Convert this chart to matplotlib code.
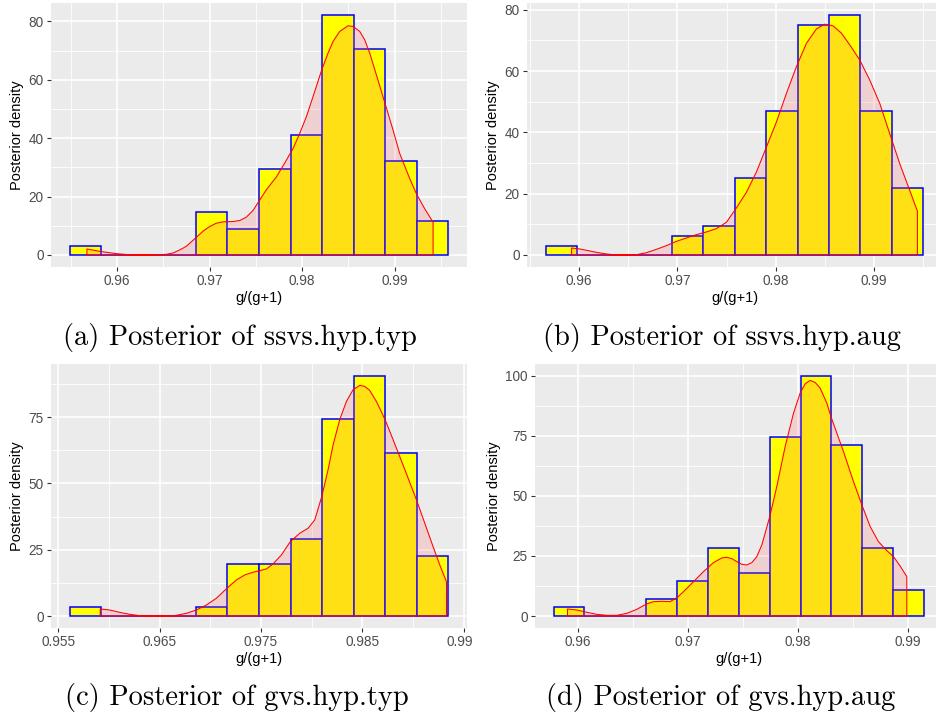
import numpy as np
import matplotlib
matplotlib.use("Agg")
import matplotlib.pyplot as plt
from matplotlib.transforms import Bbox

W, H = 937, 722

# ---- histogram data: bin range and bar heights for each model ----
a_bins = (0.95492, 0.99576)
a_heights = [3.0, 0, 0, 0, 14.7, 8.8, 29.3, 41.1, 82.2, 70.5, 32.2, 11.7]
b_bins = (0.95661, 0.99502)
b_heights = [3.0, 0, 0, 0, 6.2, 9.4, 25.0, 47.0, 75.2, 78.3, 47.0, 21.8]
c_bins = (0.95615, 0.99345)
c_heights = [3.3, 0, 0, 0, 3.3, 19.5, 19.5, 29.1, 74.2, 90.5, 61.3, 22.7]
d_bins = (0.95779, 0.99148)
d_heights = [3.6, 0, 0, 7.2, 14.4, 28.5, 17.8, 74.7, 99.9, 71.1, 28.5, 10.7]

# ---- kernel density estimates ----
a_dens_x = [0.95676, 0.95813, 0.95993, 0.96173, 0.96353, 0.96533, 0.96605, 0.96677,
            0.96749, 0.96850, 0.96929, 0.97001, 0.97073, 0.97145, 0.97253, 0.97325,
            0.97397, 0.97469, 0.97534, 0.97613, 0.97721, 0.97829, 0.97901, 0.97973,
            0.98045, 0.98117, 0.98211, 0.98279, 0.98333, 0.98405, 0.98495, 0.98550,
            0.98622, 0.98676, 0.98730, 0.98802, 0.98895, 0.98982, 0.99054, 0.99162,
            0.99234, 0.99324, 0.99414]
a_dens_y = [2.06, 1.26, 0.46, 0.0, 0.0, 0.23, 0.69, 1.72, 2.98, 5.85, 8.14, 9.74,
            10.89, 11.35, 11.46, 11.8, 12.95, 15.24, 18.45, 22.35, 26.7, 32.43, 36.45,
            41.6, 47.33, 54.21, 63.38, 69.11, 73.12, 76.56, 78.51, 78.28, 76.56, 73.69,
            69.11, 61.66, 51.92, 42.75, 34.73, 26.13, 20.97, 15.82, 11.23]

b_dens_x = [0.95922, 0.96007, 0.96092, 0.96176, 0.96278, 0.96380, 0.96481, 0.96583,
            0.96685, 0.96786, 0.96888, 0.96990, 0.97092, 0.97193, 0.97295, 0.97397,
            0.97498, 0.97600, 0.97702, 0.97803, 0.97905, 0.98007, 0.98108, 0.98210,
            0.98312, 0.98414, 0.98498, 0.98583, 0.98668, 0.98753, 0.98854, 0.98956,
            0.99058, 0.99159, 0.99261, 0.99363, 0.99441]
b_dens_y = [2.29, 1.96, 1.42, 0.87, 0.33, 0.0, 0.0, 0.11, 0.76, 1.86, 3.06, 4.47,
            5.57, 6.66, 7.53, 8.62, 10.7, 15.39, 20.52, 27.07, 35.25, 43.44, 52.71,
            61.45, 69.09, 73.78, 75.31, 74.76, 72.36, 68.54, 63.63, 57.08, 49.44,
            39.62, 29.8, 21.06, 14.3]

c_dens_x = [0.95914, 0.96007, 0.96105, 0.96204, 0.96303, 0.96434, 0.96566, 0.96664,
            0.96763, 0.96862, 0.96961, 0.97059, 0.97174, 0.97257, 0.97339, 0.97421,
            0.97487, 0.97553, 0.97618, 0.97701, 0.97789, 0.97882, 0.97964, 0.98030,
            0.98099, 0.98161, 0.98211, 0.98276, 0.98342, 0.98408, 0.98474, 0.98523,
            0.98572, 0.98638, 0.98724, 0.98803, 0.98868, 0.98951, 0.99033, 0.99115,
            0.99197, 0.99263, 0.99329]
c_dens_y = [2.64, 2.27, 1.38, 0.63, 0.13, 0.0, 0.0, 0.25, 1.01, 2.27, 4.15, 6.67,
            10.82, 13.59, 15.48, 16.49, 17.11, 17.74, 19.63, 23.03, 28.06, 31.21,
            33.1, 36.24, 45.05, 55.12, 64.56, 73.99, 80.91, 85.32, 86.96, 86.58,
            85.07, 80.91, 73.99, 66.44, 60.15, 51.97, 43.79, 34.98, 26.17, 19.25, 12.96]

d_dens_x = [0.95906, 0.95991, 0.96082, 0.96173, 0.96264, 0.96355, 0.96445, 0.96536,
            0.96624, 0.96688, 0.96764, 0.96839, 0.96906, 0.96976, 0.97052, 0.97142,
            0.97233, 0.97309, 0.97355, 0.97400, 0.97445, 0.97491, 0.97536, 0.97582,
            0.97627, 0.97673, 0.97745, 0.97809, 0.97885, 0.97961, 0.98021, 0.98067,
            0.98112, 0.98158, 0.98203, 0.98264, 0.98306, 0.98355, 0.98415, 0.98506,
            0.98588, 0.98658, 0.98733, 0.98809, 0.98870, 0.98930, 0.98991]
d_dens_y = [2.92, 2.5, 1.53, 0.69, 0.28, 0.28, 1.11, 2.78, 5.0, 5.97, 6.11, 5.97,
            7.78, 10.83, 14.31, 18.47, 22.22, 24.17, 24.44, 23.89, 22.64, 21.53, 21.25,
            22.22, 24.72, 29.58, 41.39, 53.89, 70.56, 84.44, 92.78, 96.67, 98.06,
            97.22, 94.86, 88.61, 82.36, 76.11, 68.47, 55.97, 45.56, 37.22, 30.97,
            27.22, 24.72, 20.83, 16.39]

# ---- axis breaks ----
a_xticks = [0.96, 0.97, 0.98, 0.99]
a_xlabels = ["0.96", "0.97", "0.98", "0.99"]
a_yticks = [0, 20, 40, 60, 80]
b_xticks = [0.96, 0.97, 0.98, 0.99]
b_xlabels = ["0.96", "0.97", "0.98", "0.99"]
b_yticks = [0, 20, 40, 60, 80]
c_xticks = [0.955, 0.965, 0.975, 0.985, 0.995]
c_xlabels = ["0.955", "0.965", "0.975", "0.985", "0.995"]
c_yticks = [0, 25, 50, 75]
d_xticks = [0.96, 0.97, 0.98, 0.99]
d_xlabels = ["0.96", "0.97", "0.98", "0.99"]
d_yticks = [0, 25, 50, 75, 100]

captions = ["(a) Posterior of ssvs.hyp.typ", "(b) Posterior of ssvs.hyp.aug",
            "(c) Posterior of gvs.hyp.typ", "(d) Posterior of gvs.hyp.aug"]

BG = "#EBEBEB"
TICK_COL = "#4D4D4D"

plt.rcParams["font.family"] = ["Liberation Sans", "DejaVu Sans"]

fig = plt.figure(figsize=(W / 100, H / 100), dpi=100)
fig.patch.set_facecolor("white")


def px_axes(left, top, right, bottom):
    return fig.add_axes([left / W, 1 - bottom / H, (right - left) / W, (bottom - top) / H])


def midpoints(ticks, lo, hi):
    step = ticks[1] - ticks[0]
    cand = [ticks[0] - step / 2] + [t + step / 2 for t in ticks]
    return [m for m in cand if lo < m < hi]


def panel(box, bins, heights, dx, dy, xticks, xlabels, yticks, clip_right=None):
    ax = px_axes(*box)
    ax.set_facecolor(BG)
    n = len(heights)
    edges = np.linspace(bins[0], bins[1], n + 1)
    xr = edges[-1] - edges[0]
    xlim = (edges[0] - 0.05 * xr, edges[-1] + 0.05 * xr)
    ymax = max(max(heights), max(dy))
    ylim = (-0.05 * ymax, 1.05 * ymax)
    ax.set_xlim(*xlim)
    ax.set_ylim(*ylim)

    # grid
    for m in midpoints(xticks, *xlim):
        ax.axvline(m, color="white", lw=0.6, zorder=0.5)
    for m in midpoints(yticks, *ylim):
        ax.axhline(m, color="white", lw=0.6, zorder=0.5)
    for t in xticks:
        ax.axvline(t, color="white", lw=1.2, zorder=0.6)
    for t in yticks:
        ax.axhline(t, color="white", lw=1.2, zorder=0.6)

    # histogram
    ax.bar(edges[:-1], heights, width=np.diff(edges), align="edge",
           facecolor="#FFFF00", edgecolor="#0000FF", linewidth=1.1, zorder=2)

    # density area
    px = [dx[0]] + list(dx) + [dx[-1]]
    py = [0] + list(dy) + [0]
    ax.fill(px, py, facecolor=(1.0, 0.4, 0.4, 0.2), edgecolor="none", zorder=3)
    ax.plot(px + [px[0]], py + [0], color="#FF0000", lw=0.75, zorder=4,
            solid_joinstyle="round")

    ax.set_xticks(xticks)
    ax.set_xticklabels(xlabels)
    ax.set_yticks(yticks)
    ax.set_yticklabels([str(t) for t in yticks])
    ax.tick_params(axis="both", direction="out", length=3.2, width=0.8,
                   color="#333333", labelcolor=TICK_COL, labelsize=9.8, pad=2)
    for s in ax.spines.values():
        s.set_visible(False)
    ax.set_xlabel("g/(g+1)", fontsize=10.5, color="black", labelpad=2)
    ax.set_ylabel("Posterior density", fontsize=10.5, color="black", labelpad=3)
    if clip_right is not None:
        clip = Bbox([[0, 0], [clip_right, H]])
        for lab in ax.get_xticklabels():
            lab.set_clip_on(True)
            lab.set_clip_box(clip)
    return ax


panel((51, 3, 467, 267), a_bins, a_heights, a_dens_x, a_dens_y, a_xticks, a_xlabels, a_yticks)
panel((527, 3, 942.3, 267), b_bins, b_heights, b_dens_x, b_dens_y, b_xticks, b_xlabels, b_yticks)
panel((51, 364, 467, 628), c_bins, c_heights, c_dens_x, c_dens_y, c_xticks, c_xlabels, c_yticks,
      clip_right=472)
panel((535, 364, 942.6, 628), d_bins, d_heights, d_dens_x, d_dens_y, d_xticks, d_xlabels, d_yticks)

cap_pos = [(240, 338), (722, 338), (237, 698), (721, 698)]
for txt, (cx, cy) in zip(captions, cap_pos):
    fig.text(cx / W, 1 - cy / H, txt, family="cmr10", fontsize=20.5,
             ha="center", va="center", color="black")

fig.savefig("out.png", dpi=100)
